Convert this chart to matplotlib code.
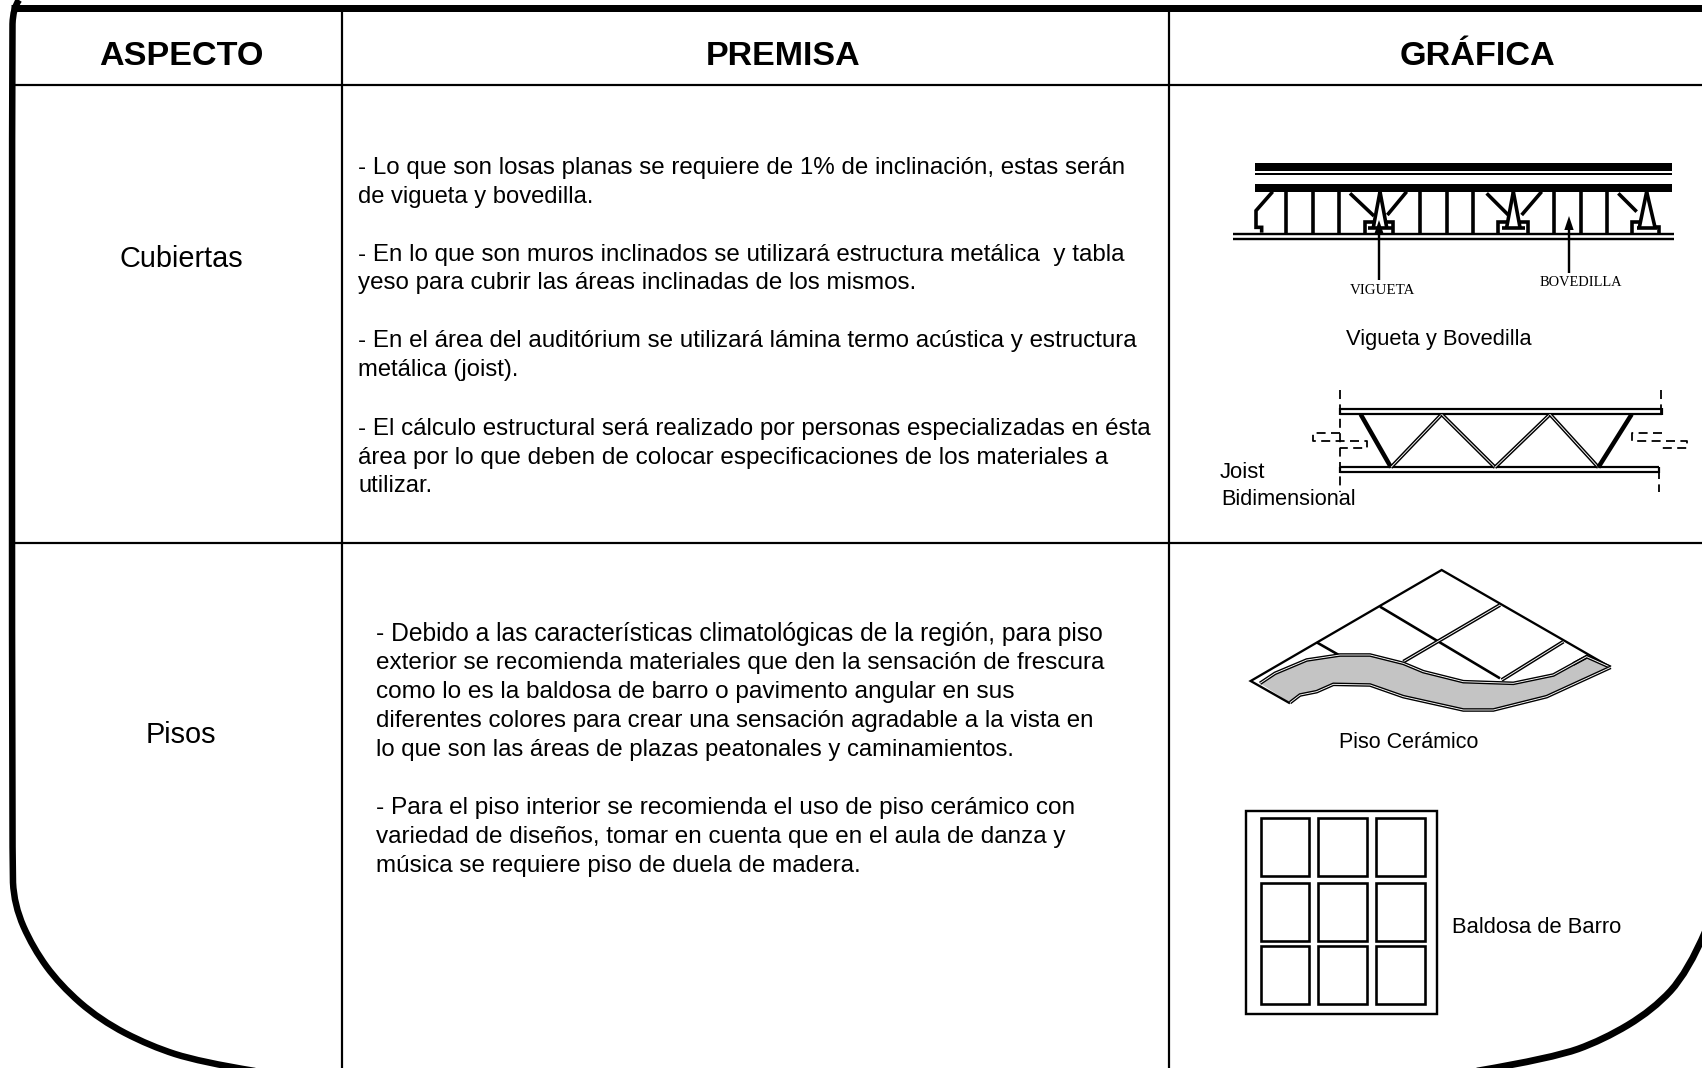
import statistics
import matplotlib
matplotlib.use("Agg")
import matplotlib.pyplot as plt
from matplotlib.patches import Polygon, Rectangle, PathPatch
from matplotlib.path import Path

W, H = 1702, 1068
S = 1702 / 1568  # the text positions were read on the 1568-wide view

HEADERS = ["ASPECTO", "PREMISA", "GRÁFICA"]
HEADER_SPANS = [(91, 243), (650, 793), (1289, 1433)]
ROW_LABELS = ["Cubiertas", "Pisos"]
ROW_SPANS = [(110, 224, 238), (134, 199, 676)]

ROOF_LINES = [
    "- Lo que son losas planas se requiere de 1% de inclinación, estas serán",
    "de vigueta y bovedilla.",
    "- En lo que son muros inclinados se utilizará estructura metálica  y tabla",
    "yeso para cubrir las áreas inclinadas de los mismos.",
    "- En el área del auditórium se utilizará lámina termo acústica y estructura",
    "metálica (joist).",
    "- El cálculo estructural será realizado por personas especializadas en ésta",
    "área por lo que deben de colocar especificaciones de los materiales a",
    "utilizar.",
]
ROOF_Y = [153, 180, 233, 259, 312, 339, 393, 420, 446]
ROOF_RIGHT = [1040, 523, 1040, 847, 1049, 473, 1063, 1025, 388]
FLOOR_LINES = [
    "- Debido a las características climatológicas de la región, para piso",
    "exterior se recomienda materiales que den la sensación de frescura",
    "como lo es la baldosa de barro o pavimento angular en sus",
    "diferentes colores para crear una sensación agradable a la vista en",
    "lo que son las áreas de plazas peatonales y caminamientos.",
    "- Para el piso interior se recomienda el uso de piso cerámico con",
    "variedad de diseños, tomar en cuenta que en el aula de danza y",
    "música se requiere piso de duela de madera.",
]
FLOOR_Y = [583, 609, 636, 662, 689, 743, 769, 796]
FLOOR_RIGHT = [1024, 1020, 937, 1011, 914, 992, 983, 795]

CAPTIONS = ["Vigueta y Bovedilla", "Piso Cerámico", "Baldosa de Barro", "Joist", "Bidimensional"]
CAPTION_SPANS = [(1240, 1412, 311), (1234, 1363, 683), (1338, 1495, 853), (1124, 1166, 434), (1125, 1250, 459)]

# frame outline, full-size pixels (control polygons of the smooth corners)
FRAME_LEFT = [(19, 0), (13, 8), (12, 40), (12, 860), (14, 905), (33, 948), (60, 985), (100, 1020),
              (150, 1046), (200, 1062), (255, 1071)]
FRAME_RIGHT = [(1706, 930), (1688, 972), (1653, 1010), (1603, 1040), (1553, 1058), (1477, 1071)]

# Vigueta drawing, in zoom units
V_POSTS = [258, 338, 418, 660, 740, 818, 1062, 1142, 1222]
V_DIAG = [[(218, 155), (168, 212), (168, 262), (185, 262), (185, 278)],
          [(450, 160), (522, 228)], [(620, 155), (562, 225)], [(540, 155), (520, 262)], [(540, 155), (560, 262)],
          [(495, 278), (495, 245), (522, 245)], [(580, 278), (580, 245), (558, 245)], [(505, 265), (575, 265)],
          [(860, 160), (925, 225)], [(1025, 155), (965, 225)], [(940, 155), (920, 262)], [(940, 155), (960, 262)],
          [(893, 278), (893, 245), (920, 245)], [(985, 278), (985, 245), (960, 245)], [(905, 265), (975, 265)],
          [(1255, 160), (1310, 215)], [(1340, 155), (1318, 262)], [(1340, 155), (1365, 262)],
          [(1297, 278), (1297, 245), (1318, 245)], [(1378, 278), (1378, 262), (1365, 262)], [(1310, 265), (1370, 265)]]

# Joist drawing, in zoom units
J_WEBS = [(482, 133), (573, 292), (725, 133), (885, 292), (1050, 133), (1195, 292), (1295, 133)]
J_DASH = [[(421, 60), (421, 365)], [(1383, 60), (1383, 130)], [(1376, 300), (1376, 365)],
          [(420, 190), (340, 190), (340, 212), (500, 212), (500, 235), (420, 235)],
          [(1385, 190), (1295, 190), (1295, 212), (1462, 212), (1462, 235), (1375, 235)]]

# Floor drawing, in zoom units
P_OUTLINE = [(210, 460), (92, 393), (665, 60), (1172, 352)]
P_GRID = [[(480, 170), (840, 385)], [(290, 277), (360, 317)]]
P_GRID_DOUBLE = [[(840, 165), (550, 335)], [(1030, 275), (845, 390)], [(1105, 318), (1060, 342)]]
P_UPPER = [(120, 400), (165, 370), (260, 330), (360, 315), (450, 315), (550, 340), (610, 365),
           (730, 395), (880, 400), (1000, 375), (1100, 320), (1172, 352)]
P_LOWER = [(210, 458), (240, 435), (290, 425), (340, 403), (450, 405), (550, 440), (730, 480),
           (820, 480), (980, 440), (1172, 352)]

# Tile drawing, in zoom units
T_COLS = [(122, 268), (295, 442), (468, 615)]
T_ROWS = [(85, 258), (280, 453), (467, 642)]

fig = plt.figure(figsize=(W / 100, H / 100), dpi=100, facecolor="white")
ax = fig.add_axes([0, 0, 1, 1])
ax.set_xlim(0, W)
ax.set_ylim(H, 0)
ax.axis("off")
renderer = fig.canvas.get_renderer()


def fit(s, x0, x1, y, family="Liberation Sans", weight="normal", base=17.0):
    t = ax.text(x0, y, s, family=family, weight=weight, fontsize=base, color="black", ha="left", va="baseline")
    w = t.get_window_extent(renderer).width
    t.set_fontsize(base * (x1 - x0) / w)
    return t


def block(lines, ys, rights, left):
    """One type size for a paragraph block, allowing only a small per-line nudge."""
    items = [fit(s, left * S, r * S, y * S + 8) for s, y, r in zip(lines, ys, rights)]
    mid = statistics.median(t.get_fontsize() for t in items)
    for t in items:
        t.set_fontsize(min(max(t.get_fontsize(), mid * 0.985), mid * 1.015))


def line(pts, px=1.5, **kw):
    xs, ys = zip(*pts)
    kw.setdefault("solid_capstyle", "butt")
    kw.setdefault("solid_joinstyle", "miter")
    ax.plot(xs, ys, color="black", lw=px * 0.72, **kw)


def hollow(pts, px=3.6, inner=0.9):
    line(pts, px)
    xs, ys = zip(*pts)
    ax.plot(xs, ys, color="white", lw=inner * 0.72, solid_capstyle="butt")


def smooth(pts, px):
    verts = [pts[0]]
    codes = [Path.MOVETO]
    for i in range(1, len(pts) - 1):
        end = pts[i + 1] if i == len(pts) - 2 else ((pts[i][0] + pts[i + 1][0]) / 2, (pts[i][1] + pts[i + 1][1]) / 2)
        verts += [pts[i], end]
        codes += [Path.CURVE3, Path.CURVE3]
    ax.add_patch(PathPatch(Path(verts, codes), fc="none", ec="black", lw=px * 0.72, capstyle="butt"))


def zoomed(x0, y0):
    return lambda pts: [(x0 + a / 3, y0 + b / 3) for a, b in pts]


# frame and table rules
smooth(FRAME_LEFT, 6.5)
smooth(FRAME_RIGHT, 6.8)
line([(11, 7.5), (W, 7.5)], 7)
line([(12, 84.5), (W, 84.5)], 2.2)
line([(12, 543), (W, 543)], 2.2)
line([(342, 7), (342, H)], 2.2)
line([(1169, 7), (1169, H)], 2.2)

for s, (a, b) in zip(HEADERS, HEADER_SPANS):
    fit(s, a * S, b * S, 65, weight="bold", base=23)
for s, (a, b, y) in zip(ROW_LABELS, ROW_SPANS):
    fit(s, a * S, b * S, y * S + 9, base=19)
block(ROOF_LINES, ROOF_Y, ROOF_RIGHT, 330)
block(FLOOR_LINES, FLOOR_Y, FLOOR_RIGHT, 346)
for s, (a, b, y) in zip(CAPTIONS, CAPTION_SPANS):
    fit(s, a * S, b * S, y * S + 7, base=15)

# Vigueta y bovedilla
z = zoomed(1200, 140)
ax.add_patch(Rectangle(z([(165, 70)])[0], 1250 / 3, 22 / 3, fc="black", ec="none"))
ax.add_patch(Rectangle(z([(165, 98)])[0], 1250 / 3, 6 / 3, fc="black", ec="none"))
ax.add_patch(Rectangle(z([(165, 133)])[0], 1250 / 3, 22 / 3, fc="black", ec="none"))
line(z([(100, 281), (1422, 281)]), 2.4)
line(z([(100, 296), (1422, 296)]), 2.4)
for xp in V_POSTS:
    line(z([(xp, 155), (xp, 278)]), 3.6)
for pts in V_DIAG:
    line(z(pts), 3.6)
line(z([(537, 420), (537, 260)]), 2.4)
line(z([(1107, 400), (1107, 260)]), 2.4)
for tip, xc in (((537, 240), 537), ((1107, 228), 1107)):
    ax.add_patch(Polygon(z([tip, (xc - 14, tip[1] + 42), (xc + 14, tip[1] + 42)]), fc="black", ec="none"))
fit("VIGUETA", 1200 + 450 / 3, 1200 + 645 / 3, 140 + 461 / 3, family="Liberation Serif", base=9)
fit("BOVEDILLA", 1200 + 1018 / 3, 1200 + 1265 / 3, 140 + 438 / 3, family="Liberation Serif", base=9)

# Joist
z = zoomed(1200, 370)
for yy in (117, 133):
    line(z([(420, yy), (1385, yy)]), 2.2)
for yy in (292, 306):
    line(z([(420, yy), (1378, yy)]), 2.2)
for xx, y0, y1 in ((421, 115, 135), (1385, 115, 135), (421, 290, 308), (1378, 290, 308)):
    line(z([(xx, y0), (xx, y1)]), 2.2)
for i, (p, q) in enumerate(zip(J_WEBS[:-1], J_WEBS[1:])):
    if i in (0, 5):
        line(z([p, q]), 4.5)
    else:
        hollow(z([p, q]), 3.8, 0.9)
for pts in J_DASH:
    line(z(pts), 1.8, linestyle=(0, (5, 3)))

# Piso ceramico
z = zoomed(1220, 550)
ax.add_patch(Polygon(z(P_UPPER + P_LOWER[::-1]), fc="#c4c4c4", ec="none"))
line(z(P_OUTLINE), 2.3)
for pts in P_GRID:
    line(z(pts), 2.6)
for pts in P_GRID_DOUBLE:
    hollow(z(pts), 3.8, 0.9)
hollow(z(P_UPPER), 3.6, 0.9)
hollow(z(P_LOWER), 3.6, 0.9)

# Baldosa
z = zoomed(1220, 790)
a, b = z([(78, 63), (652, 672)])
ax.add_patch(Rectangle(a, b[0] - a[0], b[1] - a[1], fc="none", ec="black", lw=2.4 * 0.72))
for cx in T_COLS:
    for ry in T_ROWS:
        a, b = z([(cx[0], ry[0]), (cx[1], ry[1])])
        ax.add_patch(Rectangle(a, b[0] - a[0], b[1] - a[1], fc="none", ec="black", lw=2.6 * 0.72))

fig.savefig("out.png", dpi=100, facecolor="white")
